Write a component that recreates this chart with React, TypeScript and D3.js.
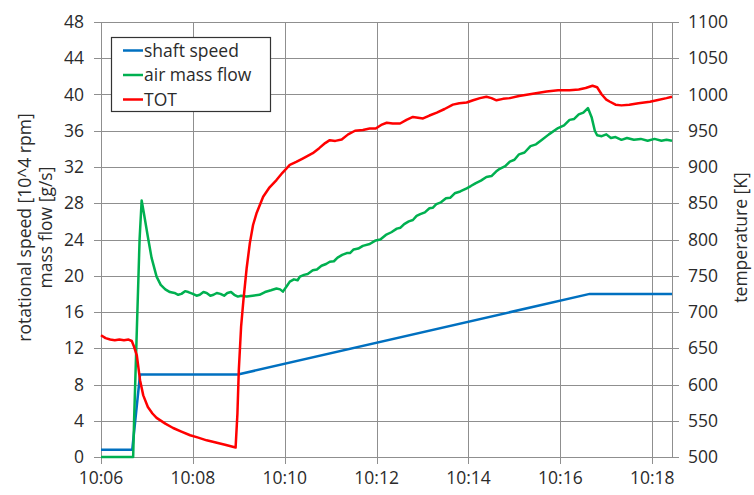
import React from "react";
import * as d3 from "d3";

// Time is given in minutes after 10:06
const timeTicks = [0, 2, 4, 6, 8, 10, 12];
const timeLabels = ["10:06", "10:08", "10:10", "10:12", "10:14", "10:16", "10:18"];
const leftTicks = [0, 4, 8, 12, 16, 20, 24, 28, 32, 36, 40, 44, 48];
const rightTicks = [500, 550, 600, 650, 700, 750, 800, 850, 900, 950, 1000, 1050, 1100];

// shaft speed [10^4 rpm]
const shaftT = [0, 0.68, 0.85, 2.98, 10.64, 12.43];
const shaftV = [0.8, 0.8, 9.1, 9.1, 18, 18];

// air mass flow [g/s]
const airT = [
  0, 0.7, 0.72, 0.78, 0.84, 0.885, 0.93, 1.02, 1.1, 1.21, 1.3, 1.4, 1.5, 1.6, 1.68, 1.75,
  1.83, 1.9, 2.0, 2.08, 2.15, 2.23, 2.3, 2.38, 2.45, 2.52, 2.6, 2.68, 2.75, 2.83, 2.9, 2.98,
  3.05, 3.17, 3.3, 3.45, 3.57, 3.7, 3.82, 3.9, 3.96, 4.05, 4.11, 4.2, 4.28, 4.33, 4.42,
  4.5, 4.61, 4.7, 4.8, 4.9, 4.98, 5.07, 5.15, 5.25, 5.35, 5.42, 5.5, 5.6, 5.7, 5.85, 5.98,
  6.08, 6.2, 6.32, 6.44, 6.52, 6.6, 6.7, 6.79, 6.87, 6.95, 7.05, 7.15, 7.22, 7.3, 7.4,
  7.51, 7.6, 7.7, 7.82, 7.96, 8.05, 8.15, 8.27, 8.39, 8.5, 8.6, 8.68, 8.8, 8.9, 9.0,
  9.1, 9.22, 9.35, 9.47, 9.6, 9.75, 9.95, 10.08, 10.2, 10.3, 10.4, 10.5, 10.6, 10.68,
  10.75, 10.8, 10.9, 11.0, 11.1, 11.2, 11.33, 11.45, 11.6, 11.75, 11.9, 12.05, 12.2,
  12.31, 12.43,
];
const airV = [
  0, 0, 4, 14, 24, 28.3, 27.0, 24.3, 22.0, 19.9, 19.0, 18.5, 18.2, 18.1, 17.9, 18.0,
  18.3, 18.2, 18.0, 17.8, 17.9, 18.2, 18.1, 17.8, 17.9, 18.1, 18.0, 17.8, 18.1, 18.2, 17.9, 17.7,
  17.8, 17.7, 17.8, 17.9, 18.2, 18.4, 18.6, 18.5, 18.25, 18.9, 19.35, 19.6, 19.5, 19.9, 20.1,
  20.2, 20.6, 20.7, 21.1, 21.3, 21.55, 21.6, 22.0, 22.3, 22.5, 22.5, 22.9, 23.0, 23.3, 23.5, 23.9,
  24.0, 24.5, 24.8, 25.2, 25.3, 25.7, 26.0, 26.15, 26.6, 26.8, 27.0, 27.45, 27.5, 27.9, 28.1,
  28.55, 28.6, 29.1, 29.3, 29.65, 29.9, 30.2, 30.5, 30.9, 31.0, 31.5, 31.8, 32.1, 32.6, 32.8,
  33.4, 33.6, 34.3, 34.5, 35.0, 35.6, 36.3, 36.6, 37.2, 37.3, 37.8, 38.0, 38.5, 37.5,
  36.0, 35.5, 35.4, 35.6, 35.2, 35.3, 35.0, 35.2, 35.0, 35.1, 34.9, 35.1, 34.9,
  35.0, 34.9,
];

// turbine outlet temperature [K]
const totT = [
  0, 0.1, 0.2, 0.3, 0.4, 0.5, 0.6, 0.67, 0.72, 0.78, 0.85, 0.92, 1.02, 1.12, 1.21,
  1.4, 1.57, 1.75, 1.94, 2.1, 2.3, 2.5, 2.7, 2.93, 2.97, 3.0, 3.05, 3.1, 3.17, 3.24,
  3.31, 3.39, 3.53, 3.67, 3.82, 3.95, 4.11, 4.25, 4.4, 4.61, 4.75, 4.88, 4.98, 5.1, 5.24,
  5.38, 5.53, 5.7, 5.85, 5.98, 6.1, 6.22, 6.35, 6.51, 6.65, 6.79, 6.9, 7.01, 7.15, 7.31,
  7.48, 7.66, 7.8, 7.96, 8.1, 8.25, 8.39, 8.5, 8.61, 8.75, 8.9, 9.1, 9.3, 9.5, 9.7,
  9.95, 10.2, 10.4, 10.55, 10.7, 10.8, 10.9, 11.0, 11.08, 11.2, 11.33, 11.5, 11.7, 11.95,
  12.1, 12.31, 12.43,
];
const totV = [
  668, 664, 662, 661, 662, 661, 662, 660, 652, 640, 606, 585, 569, 560, 554,
  546, 540, 535, 530, 527, 523, 520, 517, 513, 560, 620, 680, 716, 760, 795,
  820, 837, 859, 872, 882, 892, 903, 907, 912, 919, 926, 933, 937, 936, 938,
  945, 950, 951, 953, 953, 958, 961, 960, 960, 965, 969, 968, 967, 971, 975,
  980, 986, 988, 989, 992, 995, 997, 995, 992, 994, 995, 998, 1000, 1002, 1004,
  1006, 1006, 1007, 1009, 1012, 1010, 1000, 993, 990, 986, 985, 986, 988, 990,
  992, 995, 997,
];

const seriesNames = ["shaft speed", "air mass flow", "TOT"];
const seriesColors = ["#0070c0", "#00b050", "#ff0000"];

const W = 754;
const H = 495;
const plot = { left: 101, right: 672, top: 22, bottom: 457 };
const FONT = "'Open Sans', sans-serif";
const FS = 17.5;
const TEXT = "#2b2b2b";
const GRID = "#8f8f8f";

export default function App() {
  const x = d3.scaleLinear().domain([0, 12.43]).range([plot.left, plot.right]);
  const yL = d3.scaleLinear().domain([0, 48]).range([plot.bottom, plot.top]);
  const yR = d3.scaleLinear().domain([500, 1100]).range([plot.bottom, plot.top]);

  const lineL = d3
    .line<[number, number]>()
    .x((d) => x(d[0]))
    .y((d) => yL(d[1]));
  const lineR = d3
    .line<[number, number]>()
    .x((d) => x(d[0]))
    .y((d) => yR(d[1]));

  const shaft = shaftT.map((t, i) => [t, shaftV[i]] as [number, number]);
  const air = airT.map((t, i) => [t, airV[i]] as [number, number]);
  const tot = totT.map((t, i) => [t, totV[i]] as [number, number]);

  const midY = (plot.top + plot.bottom) / 2;
  const legend = { x: 111.5, y: 37.5, w: 159, h: 74 };

  return (
    <svg
      width={W}
      height={H}
      style={{ position: "absolute", left: 0, top: 0, background: "#fff" }}
      fontFamily={FONT}
    >
      <rect x={0} y={0} width={W} height={H} fill="#fff" />

      {/* horizontal gridlines with outward ticks on both sides */}
      {leftTicks.map((v) => (
        <line
          key={"h" + v}
          x1={plot.left - 7}
          x2={plot.right + 7}
          y1={Math.round(yL(v)) + 0.5}
          y2={Math.round(yL(v)) + 0.5}
          stroke={GRID}
          strokeWidth={1}
        />
      ))}

      {/* vertical gridlines with downward ticks */}
      {timeTicks.map((t) => (
        <line
          key={"v" + t}
          x1={Math.round(x(t)) + 0.5}
          x2={Math.round(x(t)) + 0.5}
          y1={plot.top}
          y2={plot.bottom + 7}
          stroke={GRID}
          strokeWidth={1}
        />
      ))}
      <line
        x1={plot.right + 0.5}
        x2={plot.right + 0.5}
        y1={plot.top}
        y2={plot.bottom}
        stroke={GRID}
        strokeWidth={1}
      />

      {/* left tick labels */}
      {leftTicks.map((v) => (
        <text
          key={"lt" + v}
          x={84}
          y={yL(v)}
          dy="0.35em"
          textAnchor="end"
          fontSize={FS}
          fill={TEXT}
        >
          {v}
        </text>
      ))}

      {/* right tick labels */}
      {rightTicks.map((v) => (
        <text
          key={"rt" + v}
          x={688}
          y={yR(v)}
          dy="0.35em"
          textAnchor="start"
          fontSize={FS}
          fill={TEXT}
        >
          {v}
        </text>
      ))}

      {/* time labels */}
      {timeTicks.map((t, i) => (
        <text
          key={"xt" + t}
          x={x(t)}
          y={478}
          dy="0.35em"
          textAnchor="middle"
          fontSize={FS}
          fill={TEXT}
        >
          {timeLabels[i]}
        </text>
      ))}

      {/* axis titles */}
      <text
        transform={`translate(25,${midY - 12}) rotate(-90)`}
        textAnchor="middle"
        dy="0.35em"
        fontSize={FS}
        fill={TEXT}
      >
        rotational speed [10^4 rpm]
      </text>
      <text
        transform={`translate(46,${midY - 12}) rotate(-90)`}
        textAnchor="middle"
        dy="0.35em"
        fontSize={FS}
        fill={TEXT}
      >
        mass flow [g/s]
      </text>
      <text
        transform={`translate(741,${midY - 2}) rotate(-90)`}
        textAnchor="middle"
        dy="0.35em"
        fontSize={FS}
        fill={TEXT}
      >
        temperature [K]
      </text>

      {/* series */}
      <path d={lineL(shaft) ?? ""} fill="none" stroke={seriesColors[0]} strokeWidth={2.5} strokeLinejoin="round" />
      <path d={lineL(air) ?? ""} fill="none" stroke={seriesColors[1]} strokeWidth={2.5} strokeLinejoin="round" />
      <path d={lineR(tot) ?? ""} fill="none" stroke={seriesColors[2]} strokeWidth={2.5} strokeLinejoin="round" />

      {/* legend */}
      <rect
        x={legend.x}
        y={legend.y}
        width={legend.w}
        height={legend.h}
        fill="#fff"
        stroke="#333"
        strokeWidth={1.2}
      />
      {seriesNames.map((name, i) => {
        const cy = 50.5 + i * 24.5;
        return (
          <g key={name}>
            <line x1={123} x2={143} y1={cy} y2={cy} stroke={seriesColors[i]} strokeWidth={2.5} />
            <text x={144} y={cy} dy="0.35em" fontSize={FS} fill={TEXT}>
              {name}
            </text>
          </g>
        );
      })}
    </svg>
  );
}
